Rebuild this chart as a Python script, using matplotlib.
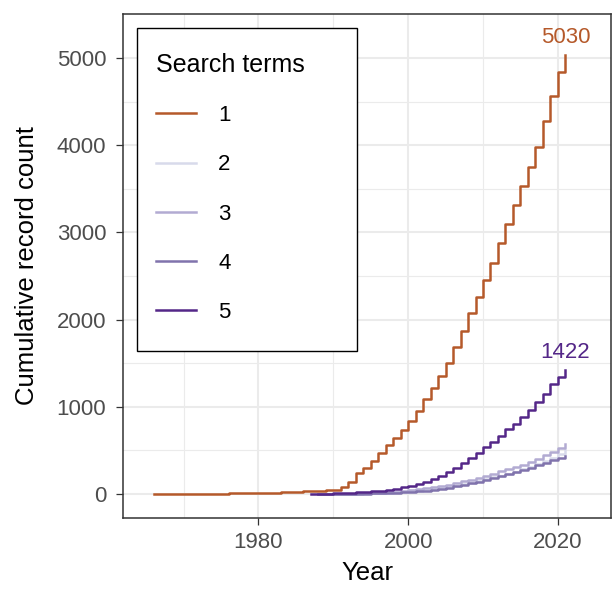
import numpy as np
import matplotlib
matplotlib.use("Agg")
import matplotlib.pyplot as plt
from matplotlib.patches import Rectangle

plt.rcParams['font.family'] = ['Liberation Sans', 'DejaVu Sans']

# search term 1: 1966-2021
years_1 = list(range(1966, 2022))
count_1 = [0, 1, 1, 2, 2, 3, 3, 4, 4, 5, 6, 6, 7, 8, 10, 13, 17, 21, 25, 28,
           31, 34, 38, 42, 46, 84, 141, 237, 295, 382, 474, 562, 646, 734,
           841, 952, 1086, 1212, 1353, 1498, 1689, 1873, 2072, 2263, 2451,
           2646, 2875, 3096, 3314, 3532, 3750, 3983, 4277, 4560, 4836, 5030]

# search terms 2-4: 1988-2021
years_24 = list(range(1988, 2022))
count_2 = [0, 0, 1, 2, 3, 5, 7, 9, 12, 16, 20, 25, 31, 38, 46, 56, 67, 80,
           94, 110, 128, 148, 168, 190, 212, 235, 258, 283, 312, 345, 380,
           418, 460, 505]
count_3 = [0, 1, 2, 3, 5, 7, 10, 13, 17, 22, 28, 35, 43, 53, 64, 77, 92,
           108, 125, 145, 166, 188, 210, 235, 260, 285, 310, 335, 370, 405,
           445, 485, 530, 575]
count_4 = [0, 0, 1, 1, 2, 3, 4, 6, 8, 11, 14, 18, 23, 30, 38, 48, 60, 73,
           88, 104, 122, 140, 160, 180, 202, 225, 250, 275, 302, 330, 360,
           392, 415, 440]

# search term 5: 1987-2021
years_5 = list(range(1987, 2022))
count_5 = [1, 3, 5, 8, 11, 15, 18, 25, 33, 40, 50, 62, 77, 92, 115, 141,
           172, 210, 256, 295, 352, 409, 474, 543, 600, 665, 742, 803, 887,
           963, 1059, 1143, 1258, 1345, 1422]

labels = ['1', '2', '3', '4', '5']
colors = ['#b5592a', '#d8daeb', '#b2abd2', '#8073ac', '#542788']
series = [(years_1, count_1), (years_24, count_2), (years_24, count_3),
          (years_24, count_4), (years_5, count_5)]

W, H = 612, 595
fig = plt.figure(figsize=(W/100, H/100), dpi=100)
ax = fig.add_axes([123/W, 1-518/H, 488/W, 504/H])

for (x, y), c, lab in zip(series, colors, labels):
    ax.plot(x, y, drawstyle='steps-post', color=c, lw=1.8, label=lab)

# end labels
for (x, y), c in [(series[0], colors[0]), (series[4], colors[4])]:
    ax.annotate(str(y[-1]), (x[-1], y[-1]), xytext=(0, 5),
                textcoords='offset points', ha='center', va='bottom',
                color=c, fontsize=16)

ax.set_xlim(1961.9, 2027.1)
ax.set_ylim(-275, 5505)
ax.set_xticks([1980, 2000, 2020])
ax.set_xticks([1970, 1990, 2010], minor=True)
ax.set_yticks(range(0, 5001, 1000))
ax.set_yticks(range(500, 5001, 1000), minor=True)
ax.grid(which='major', color='#ebebeb', lw=1.5)
ax.grid(which='minor', color='#ebebeb', lw=0.8)
ax.set_axisbelow(True)
ax.tick_params(which='major', length=5, width=0.9, color='#333333',
               labelsize=16, labelcolor='#4d4d4d', pad=5)
ax.tick_params(axis='y', which='major', pad=7)
ax.tick_params(which='minor', length=0)
for s in ax.spines.values():
    s.set_color('#333333')
    s.set_linewidth(1.1)

ax.set_xlabel('Year', fontsize=18.5, labelpad=6)
ax.set_ylabel('Cumulative record count', fontsize=18.5, labelpad=13)

leg = ax.legend(title='Search terms', loc='upper left',
                bbox_to_anchor=(137/W, 1-34/H), bbox_transform=fig.transFigure,
                fontsize=16, title_fontsize=18, alignment='left',
                frameon=False, labelspacing=1.27, handlelength=1.8,
                handletextpad=1.0, borderpad=0.85, borderaxespad=0)
leg.set_zorder(6)
# legend frame as in the reference (taller than matplotlib's default box)
ax.add_patch(Rectangle((137/W, 1-351/H), 220/W, 323/H,
                       transform=fig.transFigure, facecolor='white',
                       edgecolor='black', lw=1.0, zorder=5, clip_on=False))

fig.savefig('out.png', dpi=100)
